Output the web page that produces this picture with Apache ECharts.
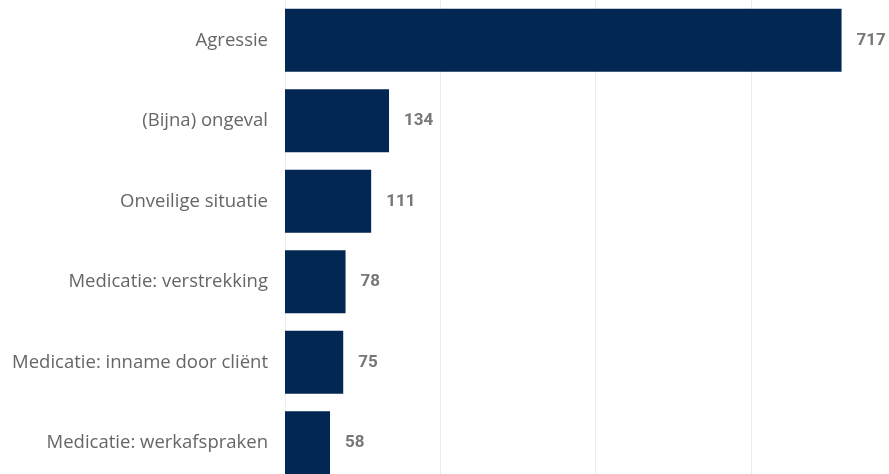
<!DOCTYPE html>
<html>
<head>
<meta charset="utf-8">
<script src="https://cdn.jsdelivr.net/npm/echarts@6/dist/echarts.min.js"></script>
<style>
  html, body { margin: 0; padding: 0; background: #fff; }
  #grafico { width: 889px; height: 474px; }
</style>
</head>
<body>
<div id="grafico"></div>
<script>
// categorieën van boven naar beneden
const categorieen = [
  'Agressie',
  '(Bijna) ongeval',
  'Onveilige situatie',
  'Medicatie: verstrekking',
  'Medicatie: inname door cliënt',
  'Medicatie: werkafspraken'
]
const aantallen = [717, 134, 111, 78, 75, 58]

const grafiek = echarts.init(document.getElementById('grafico'))

grafiek.setOption({
  animation: false,
  grid: {
    left: 285,
    top: 0,
    width: 621,
    height: 483,
    outerBoundsMode: 'none',
    containLabel: false
  },
  xAxis: {
    type: 'value',
    min: 0,
    max: 800,
    interval: 200,
    axisLabel: { show: false },
    axisLine: { show: false },
    axisTick: { show: false },
    splitLine: { lineStyle: { color: '#ececec', width: 1 } }
  },
  yAxis: {
    type: 'category',
    inverse: true,
    data: categorieen,
    axisLine: { show: false },
    axisTick: { show: false },
    axisLabel: {
      margin: 17,
      color: '#666666',
      fontSize: 18.5,
      fontFamily: 'Open Sans, Noto Sans, sans-serif'
    }
  },
  series: [
    {
      type: 'bar',
      data: aantallen,
      barCategoryGap: '22%',
      itemStyle: { color: '#022753' },
      label: {
        show: true,
        position: 'right',
        distance: 15,
        color: '#777777',
        fontSize: 17,
        fontWeight: 'bold',
        fontFamily: 'Roboto, sans-serif'
      }
    }
  ]
})
</script>
</body>
</html>
